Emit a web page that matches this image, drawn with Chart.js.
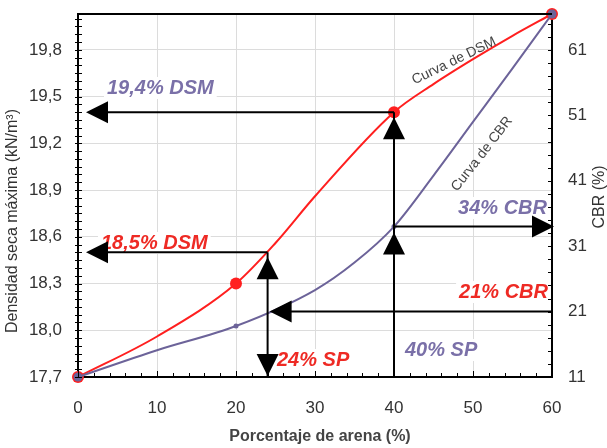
<!DOCTYPE html>
<html>
<head>
<meta charset="utf-8">
<script src="https://cdn.jsdelivr.net/npm/chart.js@4.4.0/dist/chart.umd.min.js"></script>
<style>
  html, body { margin: 0; padding: 0; background: #fff; }
  #wrap { width: 607px; height: 448px; position: relative; }
</style>
</head>
<body>
<div id="wrap"><canvas id="chart"></canvas></div>
<script>
// Sand content vs. max dry density (DSM) and CBR

// Axis ticks
const sandTicks = [0, 10, 20, 30, 40, 50, 60];
const dsmTicks = [17.7, 18.0, 18.3, 18.6, 18.9, 19.2, 19.5, 19.8];
const cbrTicks = [11, 21, 31, 41, 51, 61];

// DSM curve (kN/m3)
const dsmSand = [0, 10, 20, 25, 30, 40, 45, 50, 55, 60];
const dsmValues = [17.7, 17.96, 18.3, 18.56, 18.86, 19.4, 19.58, 19.74, 19.89, 20.03];

// CBR curve (%)
const cbrSand = [0, 10, 20, 30, 35, 40, 45, 50, 55, 60];
const cbrValues = [11, 15.1, 18.8, 24.3, 28.5, 34, 41.8, 50, 58.2, 66.5];

// Measured points (drawn with markers)
const markedSand = [0, 20, 40, 60];

// Readings shown with arrows
const readSand = [24, 40];
const readDsm = [18.5, 19.4];
const readCbr = [21, 34];
const readFromCbr = [true, false];

// Colours
const RED = '#ff1f1f';
const PURPLE = '#6c6399';
const RED_TEXT = '#ee2a24';
const PURPLE_TEXT = '#7a70a8';
const FONT = '"Liberation Sans", Arial, sans-serif';

const fmt = v => String(v).replace('.', ',');

function arrowHead(ctx, x, y, dir) {
    const len = 22, half = 11;
    ctx.beginPath();
    ctx.moveTo(x, y);
    if (dir === 'left') { ctx.lineTo(x + len, y - half); ctx.lineTo(x + len, y + half); }
    if (dir === 'right') { ctx.lineTo(x - len, y - half); ctx.lineTo(x - len, y + half); }
    if (dir === 'up') { ctx.lineTo(x - half, y + len); ctx.lineTo(x + half, y + len); }
    if (dir === 'down') { ctx.lineTo(x - half, y - len); ctx.lineTo(x + half, y - len); }
    ctx.closePath();
    ctx.fill();
}

function line(ctx, x1, y1, x2, y2) {
    ctx.beginPath();
    ctx.moveTo(x1, y1);
    ctx.lineTo(x2, y2);
    ctx.stroke();
}

// Reading labels (text boxes hide the grid behind them)
const annotations = {
    id: 'annotations',
    beforeDatasetsDraw(chart) {
        const ctx = chart.ctx;
        const labels = [
            { text: fmt(readDsm[1]) + '% DSM', color: PURPLE_TEXT, x: 107, y: 88, align: 'left' },
            { text: fmt(readDsm[0]) + '% DSM', color: RED_TEXT, x: 101, y: 243, align: 'left' },
            { text: readSand[0] + '% SP', color: RED_TEXT, x: 277, y: 360, align: 'left' },
            { text: readSand[1] + '% SP', color: PURPLE_TEXT, x: 405, y: 350, align: 'left' },
            { text: readCbr[0] + '% CBR', color: RED_TEXT, x: 548, y: 292, align: 'right' },
            { text: readCbr[1] + '% CBR', color: PURPLE_TEXT, x: 547, y: 208, align: 'right' }
        ];
        ctx.save();
        ctx.font = 'italic bold 20px ' + FONT;
        ctx.textBaseline = 'middle';
        labels.forEach(l => {
            const w = ctx.measureText(l.text).width;
            const left = l.align === 'left' ? l.x : l.x - w;
            ctx.fillStyle = '#fff';
            ctx.fillRect(left - 3, l.y - 11, w + 6, 22);
            ctx.fillStyle = l.color;
            ctx.textAlign = l.align;
            ctx.fillText(l.text, l.x, l.y);
        });
        ctx.restore();
    },
    afterDatasetsDraw(chart) {
        const ctx = chart.ctx;
        const area = chart.chartArea;
        const sx = chart.scales.x, sy = chart.scales.y, sc = chart.scales.y2;

        ctx.save();
        // top frame line
        ctx.strokeStyle = '#000';
        ctx.lineWidth = 2;
        line(ctx, area.left, area.top, area.right, area.top);

        // minor ticks
        ctx.lineWidth = 1;
        for (let v = 17.7; v < 20.02; v += 0.05) {
            const py = Math.round(sy.getPixelForValue(v)) + 0.5;
            line(ctx, area.left - 3, py, area.left + 4, py);
        }
        for (let v = 0; v <= 60; v += 2) {
            const px = Math.round(sx.getPixelForValue(v)) + 0.5;
            line(ctx, px, area.bottom, px, area.bottom - (v % 10 === 0 ? 6 : 4));
        }
        for (let v = 11; v < 66; v += 2) {
            const py = Math.round(sc.getPixelForValue(v)) + 0.5;
            line(ctx, area.right - 4, py, area.right, py);
        }

        // reading arrows
        ctx.strokeStyle = '#000';
        ctx.fillStyle = '#000';
        ctx.lineWidth = 2;
        readSand.forEach((s, i) => {
            const xp = sx.getPixelForValue(s);
            const yd = sy.getPixelForValue(readDsm[i]);
            const yc = sc.getPixelForValue(readCbr[i]);
            // DSM to left axis
            line(ctx, xp, yd, area.left + 20, yd);
            arrowHead(ctx, area.left + 8, yd, 'left');
            // vertical from sand axis
            line(ctx, xp, area.bottom, xp, yd);
            arrowHead(ctx, xp, yd + 5, 'up');
            if (readFromCbr[i]) {
                line(ctx, area.right, yc, xp + 20, yc);
                arrowHead(ctx, xp + 2, yc, 'left');
                arrowHead(ctx, xp, area.bottom - 1, 'down');
            } else {
                arrowHead(ctx, xp, yc + 6, 'up');
                line(ctx, xp, yc, area.right - 15, yc);
                arrowHead(ctx, area.right + 2, yc, 'right');
            }
        });

        // curve names
        ctx.fillStyle = '#444';
        ctx.font = '14px ' + FONT;
        ctx.textAlign = 'center';
        ctx.textBaseline = 'middle';
        [['Curva de DSM', 454, 61, -26], ['Curva de CBR', 482, 154, -52]].forEach(([t, x, y, a]) => {
            ctx.save();
            ctx.translate(x, y);
            ctx.rotate(a * Math.PI / 180);
            ctx.fillText(t, 0, 0);
            ctx.restore();
        });

        // axis titles
        ctx.fillStyle = '#333';
        ctx.font = '16px ' + FONT;
        ctx.save();
        ctx.translate(13, 221);
        ctx.rotate(-Math.PI / 2);
        ctx.fillText('Densidad seca máxima (kN/m³)', 0, 0);
        ctx.restore();
        ctx.save();
        ctx.translate(600, 197);
        ctx.rotate(-Math.PI / 2);
        ctx.fillText('CBR (%)', 0, 0);
        ctx.restore();
        ctx.font = 'bold 16px ' + FONT;
        ctx.fillStyle = '#444';
        ctx.fillText('Porcentaje de arena (%)', 320, 437);
        ctx.restore();
    }
};

const tickFont = { family: FONT, size: 17 };

// fixed box sizes so the plot area sits where the original does
function fitBox(size, vertical) {
    return scale => {
        if (vertical) scale.width = size; else scale.height = size;
        scale.paddingTop = 0;
        scale.paddingBottom = 0;
        scale.paddingLeft = 0;
        scale.paddingRight = 0;
    };
}

new Chart(document.getElementById('chart'), {
    type: 'line',
    data: {
        datasets: [{
            label: 'CBR',
            data: cbrSand.map((s, i) => ({ x: s, y: cbrValues[i] })),
            yAxisID: 'y2',
            borderColor: PURPLE,
            backgroundColor: PURPLE,
            borderWidth: 2,
            cubicInterpolationMode: 'monotone',
            pointRadius: ctx => {
                const s = cbrSand[ctx.dataIndex];
                if (s === 0 || s === 60) return 4.5;
                return markedSand.includes(s) ? 2.5 : 0;
            },
            pointBorderWidth: 0,
            clip: false,
            order: 0
        }, {
            label: 'DSM',
            data: dsmSand.map((s, i) => ({ x: s, y: dsmValues[i] })),
            yAxisID: 'y',
            borderColor: RED,
            backgroundColor: RED,
            borderWidth: 2,
            cubicInterpolationMode: 'monotone',
            pointRadius: ctx => markedSand.includes(dsmSand[ctx.dataIndex]) ? 6 : 0,
            pointBorderWidth: 0,
            clip: false,
            order: 1
        }]
    },
    options: {
        responsive: true,
        maintainAspectRatio: false,
        animation: false,
        layout: { padding: { top: 14, left: 0, right: 0, bottom: 0 } },
        plugins: {
            legend: { display: false },
            tooltip: { enabled: false }
        },
        scales: {
            x: {
                type: 'linear',
                min: 0,
                max: 60,
                afterBuildTicks: scale => { scale.ticks = sandTicks.map(v => ({ value: v })); },
                afterFit: fitBox(71, false),
                grid: { color: '#dcdcdc', drawTicks: false },
                border: { color: '#000', width: 2 },
                ticks: { font: tickFont, color: '#333', padding: 21, maxRotation: 0 }
            },
            y: {
                position: 'left',
                min: 17.7,
                max: 20.03,
                afterBuildTicks: scale => { scale.ticks = dsmTicks.map(v => ({ value: v })); },
                afterFit: fitBox(78, true),
                grid: { color: '#dcdcdc', drawTicks: false },
                border: { color: '#000', width: 2 },
                ticks: { font: tickFont, color: '#333', padding: 16, callback: v => v.toFixed(1).replace('.', ',') }
            },
            y2: {
                position: 'right',
                min: 11,
                max: 66.5,
                afterBuildTicks: scale => { scale.ticks = cbrTicks.map(v => ({ value: v })); },
                afterFit: fitBox(55, true),
                grid: { drawOnChartArea: false, drawTicks: false },
                border: { color: '#000', width: 2 },
                ticks: { font: tickFont, color: '#333', padding: 16 }
            }
        }
    },
    plugins: [annotations]
});
</script>
</body>
</html>
